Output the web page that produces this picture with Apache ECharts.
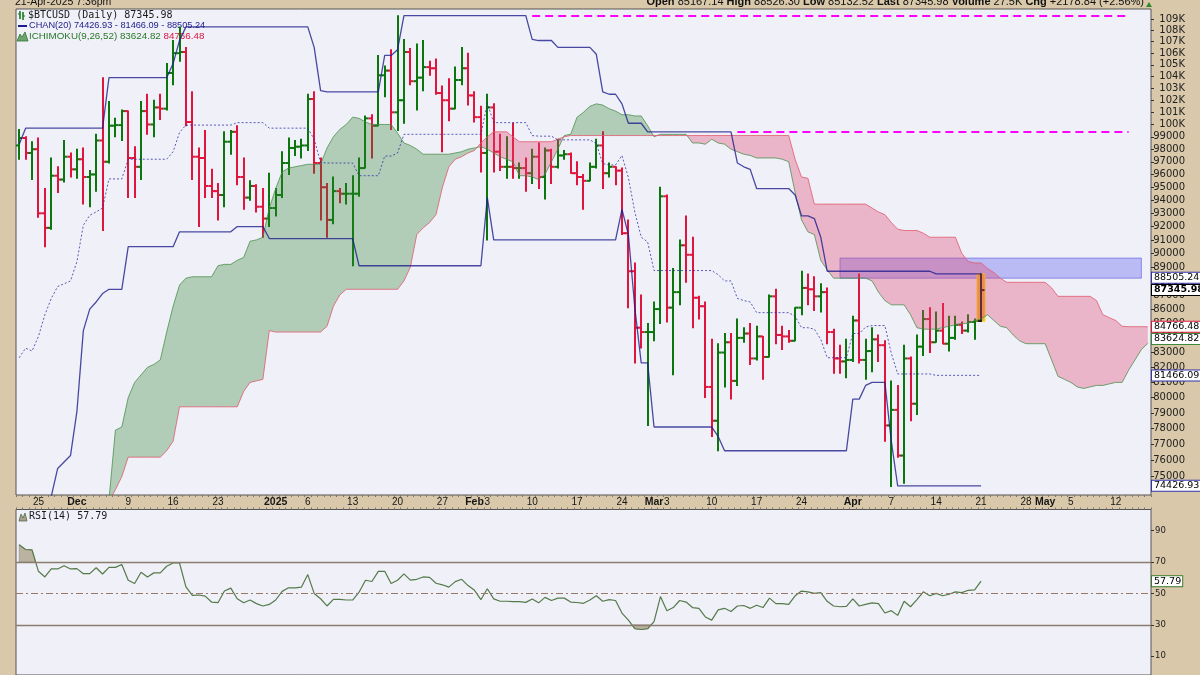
<!DOCTYPE html>
<html>
<head>
<meta charset="utf-8">
<script src="https://cdn.jsdelivr.net/npm/echarts@6.0.0/dist/echarts.min.js"></script>
<style>
html,body{margin:0;padding:0;background:#d9c8a9;overflow:hidden;}
#chart{width:1200px;height:675px;}
</style>
</head>
<body>
<div id="chart"></div>
<script>
// ---------- categories ----------
const startDay = [2024, 10, 22];   // 22-Nov-2024 (month 0-based)
const dayCount = 177;              // through 17-May-2025 (cloud projection)
const xLabelIndex = [3,9,17,24,31,40,45,52,59,66,71,73,80,87,94,99,101,108,115,122,130,136,143,150,157,160,164,171];
const xLabelText  = ['25','Dec','9','16','23','2025','6','13','20','27','Feb','3','10','17','24','Mar','3','10','17','24','Apr','7','14','21','28','May','5','12'];
const xLabelBold  = ['Dec','2025','Feb','Mar','Apr','May'];

// ---------- daily OHLC, thousand USD ----------
const openP = [
98.3,98.9,97.7,98.0,93.0,91.9,95.9,95.6,97.4,96.4,
97.2,95.8,96.0,98.7,97.0,99.9,99.95,101.1,97.3,96.6,
101.1,100.0,101.4,101.3,104.3,106.0,106.1,100.2,97.4,97.3,
95.1,94.7,94.4,98.6,99.4,95.8,94.2,95.1,93.5,92.6,
93.4,94.4,96.9,98.1,98.2,98.3,102.1,96.9,95.0,92.5,
94.7,94.5,94.5,94.5,96.5,100.5,99.9,104.1,104.5,101.0,
102.0,106.1,103.6,103.9,104.8,104.7,102.6,102.0,101.3,103.7,
104.7,102.4,100.6,97.7,101.4,97.8,96.6,96.6,96.5,96.5,
96.1,97.4,95.8,97.9,96.6,97.5,97.6,96.1,95.8,95.5,
96.6,98.3,96.1,96.6,96.3,91.5,88.7,84.7,84.4,84.4,
86.0,94.3,86.1,87.2,90.6,89.9,86.8,86.2,80.7,78.5,
83.0,83.7,81.1,84.0,84.3,82.6,84.1,82.7,86.9,84.2,
84.1,83.8,86.1,87.5,87.4,86.9,87.2,84.4,82.6,82.4,
82.5,85.2,82.5,83.1,83.9,83.5,78.2,79.2,76.3,82.6,
79.6,83.4,85.3,83.7,84.5,83.6,84.0,84.9,84.5,85.1,
85.167];
const highP = [
99.6,99.0,98.6,98.9,94.9,97.3,96.6,98.7,97.7,98.0,
98.1,96.3,99.2,103.9,101.9,100.5,101.2,101.1,98.2,101.9,
102.5,102.0,102.5,105.1,107.1,108.3,106.5,102.7,98.1,99.5,
96.4,95.3,99.4,99.5,99.9,97.3,95.5,95.2,94.9,96.1,
94.9,97.8,98.9,98.7,98.8,102.5,102.7,97.3,95.3,95.8,
94.9,95.3,95.9,97.3,100.7,100.8,105.8,104.9,106.3,109.3,
107.2,106.4,106.8,107.1,105.3,105.5,103.2,103.8,104.8,106.5,
106.0,102.7,101.5,102.5,101.7,99.2,99.0,100.1,96.9,97.3,
98.0,98.5,98.1,98.0,98.8,97.9,97.7,97.0,96.0,96.9,
98.8,99.4,96.9,96.6,96.5,92.5,89.3,87.0,85.0,86.5,
95.0,94.4,88.9,91.0,92.8,91.2,86.9,86.5,83.9,83.6,
84.3,84.3,85.3,84.7,85.0,84.8,84.1,87.0,87.4,84.8,
84.5,86.1,88.7,88.5,88.3,87.8,87.5,84.6,83.5,83.9,
85.5,88.5,83.9,84.7,84.2,83.8,81.1,80.8,83.5,82.7,
84.2,85.9,86.1,85.8,86.4,85.5,85.5,85.1,85.6,85.3,
88.526];
const lowP = [
97.2,97.2,95.6,92.7,90.5,91.8,94.6,95.4,95.8,95.7,
93.7,93.5,94.7,91.7,96.9,99.0,98.7,94.2,94.2,95.6,
99.2,99.0,100.4,101.2,103.3,105.3,99.9,95.6,92.0,94.2,
94.2,92.5,93.5,97.6,95.2,93.3,94.0,93.1,91.2,92.0,
92.8,94.2,96.0,97.5,97.3,97.9,96.1,92.5,91.2,92.2,
93.8,93.7,89.1,94.3,96.5,97.3,99.9,102.3,99.6,99.5,
100.1,103.3,101.2,102.8,104.1,102.5,97.8,100.3,101.3,103.3,
101.6,100.2,96.2,91.0,96.2,96.3,95.7,95.7,95.7,94.7,
95.3,94.9,94.1,95.3,96.5,97.2,96.1,95.2,93.3,95.5,
96.5,94.9,95.8,95.2,91.4,86.1,82.3,83.3,78.2,83.8,
85.0,85.1,81.5,86.3,87.9,84.7,85.3,80.0,77.5,76.6,
80.7,79.9,80.8,83.7,82.2,82.5,81.2,82.7,83.6,83.2,
83.7,83.8,85.6,86.3,85.9,85.8,83.6,81.6,81.6,81.3,
82.4,82.3,81.2,81.7,82.4,77.2,74.4,76.2,74.6,78.5,
78.9,82.8,83.0,83.7,83.6,83.1,83.9,84.3,84.4,83.9,
85.133];
const closeP = [
98.9,97.7,98.0,93.0,91.9,95.9,95.6,97.4,96.4,97.2,
95.8,96.0,98.7,97.0,99.9,99.95,101.1,97.3,96.6,101.1,
100.0,101.4,101.3,104.3,106.0,106.1,100.2,97.4,97.3,95.1,
94.7,94.4,98.6,99.4,95.8,94.2,95.1,93.5,92.6,93.4,
94.4,96.9,98.1,98.2,98.3,102.1,96.9,95.0,92.5,94.7,
94.5,94.5,94.5,96.5,100.5,99.9,104.1,104.5,101.0,102.0,
106.1,103.6,103.9,104.8,104.7,102.6,102.0,101.3,103.7,104.7,
102.4,100.6,97.7,101.4,97.8,96.6,96.6,96.5,96.5,96.1,
97.4,95.8,97.9,96.6,97.5,97.6,96.1,95.8,95.5,96.6,
98.3,96.1,96.6,96.3,91.5,88.7,84.7,84.4,84.4,86.0,
94.3,86.1,87.2,90.6,89.9,86.8,86.2,80.7,78.5,83.0,
83.7,81.1,84.0,84.3,82.6,84.1,82.7,86.9,84.2,84.1,
83.8,86.1,87.5,87.4,86.9,87.2,84.4,82.6,82.4,82.5,
85.2,82.5,83.1,83.9,83.5,78.2,79.2,76.3,82.6,79.6,
83.4,85.3,83.7,84.5,83.6,84.0,84.9,84.5,85.1,85.167,
87.346];

// ---------- Price channel (20) ----------
const chanUpper = [
98.4,99.7,99.7,99.7,99.7,99.7,99.7,99.7,99.7,99.7,
99.7,99.7,99.7,99.7,103.9,103.9,103.9,103.9,103.9,103.9,
103.9,103.9,103.9,103.9,105.1,107.1,108.3,108.3,108.3,108.3,
108.3,108.3,108.3,108.3,108.3,108.3,108.3,108.3,108.3,108.3,
108.3,108.3,108.3,108.3,108.3,108.3,106.5,102.8,102.7,102.7,
102.7,102.7,102.7,102.7,102.7,102.7,102.7,105.8,105.8,106.3,
109.3,109.3,109.3,109.3,109.3,109.3,109.3,109.3,109.3,109.3,
109.3,109.3,109.3,109.3,109.3,109.3,109.3,109.3,109.3,109.3,
107.2,107.1,107.1,107.1,106.5,106.5,106.5,106.5,106.5,106.5,
105.9,102.7,102.5,102.5,101.7,100.1,100.1,100.1,99.4,99.4,
99.4,99.4,99.4,99.4,99.4,99.4,99.4,99.4,99.4,99.4,
99.4,99.4,96.9,96.6,96.4,94.9,94.9,94.9,94.9,94.9,
94.9,94.4,92.8,92.8,92.6,91.2,88.7,88.7,88.7,88.7,
88.7,88.7,88.7,88.7,88.7,88.7,88.7,88.7,88.7,88.7,
88.7,88.7,88.7,88.505,88.505,88.505,88.505,88.505,88.505,88.505,
88.505];
const chanLower = [
66.9,66.9,66.5,68.5,71.5,73.8,75.5,75.9,76.3,79.1,
84.5,86.0,86.5,87.1,87.4,87.4,87.4,90.5,90.5,90.5,
90.5,90.5,90.5,90.5,90.5,91.6,91.6,91.6,91.6,91.6,
91.6,91.6,91.6,91.6,92.0,92.0,92.0,92.0,92.0,91.1,
91.1,91.1,91.1,91.1,91.1,91.1,91.1,91.1,91.1,91.1,
91.1,91.1,91.1,89.1,89.1,89.1,89.1,89.1,89.1,89.1,
89.1,89.1,89.1,89.1,89.1,89.1,89.1,89.1,89.1,89.1,
89.1,89.1,89.1,94.2,91.0,91.0,91.0,91.0,91.0,91.0,
91.0,91.0,91.0,91.0,91.0,91.0,91.0,91.0,91.0,91.0,
91.0,91.0,91.0,91.0,93.3,91.4,86.1,82.3,82.3,78.1,
78.1,78.1,78.1,78.1,78.1,78.1,78.1,78.1,78.1,77.5,
76.6,76.6,76.6,76.6,76.6,76.6,76.6,76.6,76.6,76.6,
76.6,76.6,76.6,76.6,76.6,76.6,76.6,76.6,76.6,76.6,
79.9,79.9,80.8,81.0,81.0,81.0,77.2,74.427,74.427,74.427,
74.427,74.427,74.427,74.427,74.427,74.427,74.427,74.427,74.427,74.427,
74.427];
const chanMid = [
82.65,83.3,83.1,84.1,85.6,86.75,87.6,87.8,88.0,89.4,
92.1,92.85,93.1,93.4,95.65,95.65,95.65,97.2,97.2,97.2,
97.2,97.2,97.2,97.2,97.8,99.35,99.95,99.95,99.95,99.95,
99.95,99.95,99.95,99.95,100.15,100.15,100.15,100.15,100.15,99.7,
99.7,99.7,99.7,99.7,99.7,99.7,98.8,96.95,96.9,96.9,
96.9,96.9,96.9,95.9,95.9,95.9,95.9,97.45,97.45,97.7,
99.2,99.2,99.2,99.2,99.2,99.2,99.2,99.2,99.2,99.2,
99.2,99.2,99.2,101.75,100.15,100.15,100.15,100.15,100.15,100.15,
99.1,99.05,99.05,99.05,98.75,98.75,98.75,98.75,98.75,98.75,
98.45,96.85,96.75,96.75,97.5,95.75,93.1,91.2,90.85,88.75,
88.75,88.75,88.75,88.75,88.75,88.75,88.75,88.75,88.75,88.45,
88.0,88.0,86.75,86.6,86.5,85.75,85.75,85.75,85.75,85.75,
85.75,85.5,84.7,84.7,84.6,83.9,82.65,82.65,82.65,82.65,
84.3,84.3,84.75,84.85,84.85,84.85,82.95,81.56,81.56,81.56,
81.56,81.56,81.56,81.466,81.466,81.466,81.466,81.466,81.466,81.466,
81.466];

// ---------- Ichimoku cloud (spans start at index 14) ----------
const cloudStart = 14;
const spanA = [
73.6,77.9,78.1,80.0,81.0,81.5,82.0,82.2,82.5,84.4,
86.2,87.7,88.2,88.3,88.3,88.3,88.3,89.1,89.2,89.2,
89.5,89.7,90.9,91.0,91.2,93.4,94.9,96.2,96.5,96.6,
96.7,96.8,96.8,96.8,98.1,99.0,99.6,100.0,100.6,100.5,
100.2,100.0,100.0,100.0,100.0,99.3,98.5,98.3,98.0,97.6,
97.6,97.6,97.6,97.6,97.7,97.8,98.0,98.1,98.2,98.0,
97.7,97.4,97.2,97.0,95.9,95.9,95.8,95.6,96.0,97.0,
98.0,99.1,99.2,100.6,101.0,101.5,101.7,101.6,101.3,101.1,
100.8,100.8,100.7,100.7,99.9,99.0,99.2,99.2,99.2,99.2,
99.2,98.5,98.5,98.4,98.8,98.5,98.4,98.0,97.8,97.6,
97.5,97.3,97.3,97.3,97.3,97.2,97.0,94.6,92.5,91.6,
91.4,89.5,88.8,88.2,88.2,88.2,88.2,88.2,88.2,88.0,
87.2,86.6,86.3,86.3,86.3,85.6,84.7,84.6,84.6,84.6,
84.7,84.8,84.9,85.0,85.0,85.2,85.3,85.6,85.2,84.8,
84.7,84.2,83.8,83.6,83.6,83.6,83.6,82.5,81.4,81.2,
81.0,80.7,80.6,80.7,80.8,80.8,80.9,81.0,81.0,81.8,
82.5,83.2,83.625];
const spanB = [
73.5,74.2,75.0,76.2,76.2,76.2,76.2,76.2,76.2,76.6,
77.2,79.4,79.4,79.4,79.4,79.4,79.4,79.4,79.4,79.4,
79.4,80.4,81.0,81.1,81.2,84.5,84.4,84.4,84.4,84.4,
84.4,84.4,84.4,84.4,84.8,86.2,87.0,87.4,87.4,87.4,
87.4,87.4,87.4,87.4,87.4,87.4,88.0,89.0,91.4,91.9,
92.3,92.9,95.0,96.6,97.2,97.4,97.7,97.9,98.5,99.0,
99.4,99.4,99.4,99.0,98.6,98.6,98.6,98.6,98.6,98.6,
98.8,99.0,99.1,99.1,99.1,99.1,99.1,99.1,99.1,99.1,
99.1,99.1,99.1,99.1,99.1,99.1,99.1,99.1,99.1,99.1,
99.1,99.1,99.1,99.1,99.1,99.1,99.1,99.1,99.1,99.1,
99.1,99.1,99.1,99.1,99.1,99.1,99.1,97.2,95.8,95.7,
93.7,93.7,93.7,93.7,93.7,93.7,93.7,93.7,93.7,93.4,
93.1,92.9,92.3,91.8,91.7,91.7,91.7,91.5,91.2,91.2,
91.2,91.2,91.2,90.0,89.4,89.3,89.3,88.9,88.6,88.2,
87.9,87.9,87.9,87.9,87.9,87.9,87.9,87.5,86.9,86.9,
86.9,86.9,86.9,86.9,86.6,85.6,85.4,85.2,84.8,84.77,
84.77,84.77,84.767];

// ---------- RSI(14) ----------
const rsiVals = [
81.0,78.0,77.8,64.1,60.5,65.6,65.6,67.7,65.6,65.8,
62.6,62.6,66.4,62.4,66.6,66.6,68.4,58.4,56.3,63.5,
60.5,63.1,63.1,67.3,69.4,69.4,54.2,48.7,49.0,48.3,
44.5,44.1,51.5,53.4,46.6,44.1,45.8,43.5,42.0,43.0,
45.8,51.3,53.6,53.6,54.0,62.0,50.0,46.6,42.0,46.2,
46.2,45.8,45.8,50.8,58.4,57.6,64.1,64.1,56.3,58.4,
62.5,58.5,59.0,60.5,60.2,56.5,55.5,54.0,57.5,59.0,
55.0,52.0,46.0,53.0,46.5,45.0,45.0,44.8,44.8,44.3,
46.5,44.0,47.5,45.5,47.0,47.0,44.5,44.2,43.7,45.8,
48.5,45.0,46.0,45.5,37.5,33.0,27.5,27.0,27.5,32.0,
48.0,39.0,41.0,45.5,44.5,41.0,40.5,35.0,33.0,39.5,
40.5,38.5,42.0,42.3,40.5,42.5,41.0,47.0,43.5,43.5,
43.0,48.5,51.5,51.0,50.0,50.5,45.0,42.0,41.5,41.8,
46.5,42.0,43.0,44.0,43.5,37.5,39.0,36.0,45.0,41.5,
46.0,51.0,48.5,50.0,48.5,49.5,51.0,50.5,52.0,52.3,
57.79];

// ---------- axis ticks & annotations ----------
const priceTicks = [75,76,77,78,79,80,81,82,83,84,85,86,87,88,89,90,91,92,93,94,95,96,97,98,99,100,101,102,103,104,105,106,107,108,109];
const rsiTicks = [10,30,50,70,90];
const yTopPrice = 109.894, yBottomPrice = 73.88;
const resistHigh = 109.3, resistLow = 99.4;
const zoneTop = 89.66, zoneBottom = 88.2;
const lastInfo = {last: 87.34598, chU: 88.50524, chM: 81.46609, chL: 74.42693, spanA: 83.62482, spanB: 84.76648, rsi: 57.79};

// ---------- build ----------
const LN = v => Math.log(v);
const dates = [];
for (let i = 0; i < dayCount; i++) {
  const d = new Date(Date.UTC(startDay[0], startDay[1], startDay[2] + i));
  dates.push(d.toISOString().slice(0, 10));
}
const labelMap = {};
xLabelIndex.forEach((ix, k) => labelMap[ix] = xLabelText[k]);

function padSeries(arr, start) {
  const out = new Array(dayCount).fill(null);
  arr.forEach((v, k) => out[start + k] = LN(v));
  return out;
}
function px(api, xf, v) {
  const i0 = Math.floor(xf), t = xf - i0;
  const p0 = api.coord([i0, v]);
  if (t < 1e-9) return p0;
  const p1 = api.coord([i0 + 1, v]);
  return [p0[0] + (p1[0] - p0[0]) * t, p0[1]];
}

const ohlcData = closeP.map((c, i) => [i, LN(openP[i]), LN(highP[i]), LN(lowP[i]), LN(c)]);

function renderBar(params, api) {
  const i = api.value(0);
  const x = Math.round(api.coord([i, api.value(2)])[0]);
  const yO = api.coord([i, api.value(1)])[1];
  const yH = api.coord([i, api.value(2)])[1];
  const yL = api.coord([i, api.value(3)])[1];
  const yC = api.coord([i, api.value(4)])[1];
  const last = i === closeP.length - 1;
  const up = i === 0 ? closeP[0] >= openP[0] : closeP[i] >= closeP[i - 1];
  const col = last ? '#202020' : (up ? '#0b760b' : '#e0143c');
  const ch = [];
  if (last) ch.push({type: 'rect', shape: {x: x - 4, y: yH, width: 8, height: yL - yH},
    style: {fill: '#f2b33c', stroke: '#f3e22a', lineWidth: 1}});
  ch.push({type: 'line', shape: {x1: x, y1: yH - 0.5, x2: x, y2: yL + 0.5}, style: {stroke: col, lineWidth: 2}});
  ch.push({type: 'line', shape: {x1: x - 3.5, y1: yO, x2: x, y2: yO}, style: {stroke: col, lineWidth: 2}});
  ch.push({type: 'line', shape: {x1: x, y1: yC, x2: x + 3.5, y2: yC}, style: {stroke: col, lineWidth: 2}});
  return {type: 'group', children: ch};
}

function renderCloud(params, api) {
  const pts = [];
  for (let k = 0; k < spanA.length; k++) {
    const i = cloudStart + k;
    const a = LN(spanA[k]), b = LN(spanB[k]);
    if (k > 0) {
      const pa = LN(spanA[k - 1]), pb = LN(spanB[k - 1]);
      const d0 = pa - pb, d1 = a - b;
      if (d0 * d1 < 0) {
        const t = d0 / (d0 - d1);
        const y = pa + (a - pa) * t;
        pts.push({x: i - 1 + t, a: y, b: y});
      }
    }
    pts.push({x: i, a: a, b: b});
  }
  const runs = [];
  let run = [], sign = 0;
  for (const p of pts) {
    const s = Math.sign(p.a - p.b);
    run.push(p);
    if (s !== 0) { if (sign === 0) sign = s; }
    else if (run.length > 1) { if (sign !== 0) runs.push({run, sign}); run = [p]; sign = 0; }
  }
  if (run.length > 1 && sign !== 0) runs.push({run, sign});
  const children = runs.map(r => {
    const top = r.run.map(p => px(api, p.x, p.a));
    const bot = r.run.slice().reverse().map(p => px(api, p.x, p.b));
    return {type: 'polygon', shape: {points: top.concat(bot)},
      style: {fill: r.sign > 0 ? 'rgba(48,132,48,0.32)' : 'rgba(226,66,108,0.34)'}};
  });
  return {type: 'group', children};
}

function thresholdRuns(vals, thr, dir) {
  const runs = []; let run = null;
  for (let i = 0; i < vals.length; i++) {
    const v = vals[i], inside = dir * (v - thr) > 0;
    if (i > 0) {
      const pv = vals[i - 1], pin = dir * (pv - thr) > 0;
      if (pin !== inside) {
        const t = (thr - pv) / (v - pv);
        if (pin) { run.push([i - 1 + t, thr]); runs.push(run); run = null; }
        else { run = [[i - 1 + t, thr]]; }
      }
    }
    if (inside) { if (!run) run = [[i, thr]]; run.push([i, v]); }
  }
  if (run) { run.push([vals.length - 1, thr]); runs.push(run); }
  return runs;
}
function renderRsiFill(params, api) {
  const runs = thresholdRuns(rsiVals, 70, 1).concat(thresholdRuns(rsiVals, 30, -1));
  return {type: 'group', children: runs.map(r => ({type: 'polygon',
    shape: {points: r.map(p => px(api, p[0], p[1]))},
    style: {fill: '#bbb29f', stroke: '#8f8878', lineWidth: 0.6}}))};
}

function tag(v, txt, color, bold) {
  return {yAxis: v, lineStyle: {width: 0, color: 'rgba(0,0,0,0)'},
    label: {show: true, position: 'end', distance: 1, formatter: txt, color: '#000',
      fontFamily: 'DejaVu Sans', fontSize: 9.5, fontWeight: bold ? 'bold' : 'normal',
      backgroundColor: '#ffffff', borderColor: color, borderWidth: 1, padding: [0, 1, 0, 2]}};
}

const chart = echarts.init(document.getElementById('chart'), null, {renderer: 'canvas', width: 1200, height: 675});

const option = {
  animation: false,
  backgroundColor: '#d9c8a9',
  textStyle: {fontFamily: 'DejaVu Sans'},
  grid: [
    {left: 16, top: 9, width: 1135, height: 486, show: true, backgroundColor: '#eff0f8', borderColor: '#555', borderWidth: 1},
    {left: 16, top: 509.5, width: 1135, height: 166.7, show: true, backgroundColor: '#eff0f8', borderColor: '#555', borderWidth: 1}
  ],
  xAxis: [
    {type: 'category', gridIndex: 0, data: dates, boundaryGap: true,
      axisLine: {show: false, onZero: false},
      axisTick: {show: true, interval: 0, length: 2, lineStyle: {color: '#777'}},
      axisLabel: {
        interval: (idx) => labelMap[idx] !== undefined,
        formatter: (val, idx) => {
          const t = labelMap[idx];
          if (t === undefined) return '';
          return xLabelBold.indexOf(t) >= 0 ? '{b|' + t + '}' : t;
        },
        fontFamily: 'Liberation Sans', fontSize: 10, color: '#151515', margin: 2,
        rich: {b: {fontFamily: 'Liberation Sans', fontSize: 10.5, fontWeight: 'bold', color: '#151515'}}
      },
      splitLine: {show: false}},
    {type: 'category', gridIndex: 1, data: dates, boundaryGap: true, position: 'top',
      axisLine: {show: false, onZero: false},
      axisTick: {show: true, interval: 0, length: 2, inside: false, lineStyle: {color: '#777'}},
      axisLabel: {show: false}, splitLine: {show: false}}
  ],
  yAxis: [
    {type: 'value', gridIndex: 0, position: 'right', min: LN(yBottomPrice), max: LN(yTopPrice),
      splitLine: {show: false}, axisLine: {show: false},
      axisTick: {show: true, customValues: priceTicks.map(LN), length: 3, lineStyle: {color: '#333'}},
      axisLabel: {customValues: priceTicks.map(LN),
        formatter: (v) => { const k = Math.round(Math.exp(v)); return k >= 100 ? k + 'K' : String(k * 1000); },
        align: 'right', margin: 34, fontFamily: 'DejaVu Sans', fontSize: 10, color: '#222'}},
    {type: 'value', gridIndex: 1, position: 'right', min: -2, max: 103.5,
      splitLine: {show: false}, axisLine: {show: false},
      axisTick: {show: true, customValues: rsiTicks, length: 3, lineStyle: {color: '#333'}},
      axisLabel: {customValues: rsiTicks, align: 'left', margin: 4,
        fontFamily: 'DejaVu Sans', fontSize: 8.5, color: '#222'}}
  ],
  series: [
    {type: 'custom', name: 'BTCUSD', xAxisIndex: 0, yAxisIndex: 0, z: 2, clip: true,
      data: ohlcData, encode: {x: 0, y: [1, 2, 3, 4]}, renderItem: renderBar},
    {type: 'custom', name: 'cloud', xAxisIndex: 0, yAxisIndex: 0, z: 3, clip: true, silent: true,
      data: [[cloudStart, LN(90)]], encode: {x: 0, y: 1}, renderItem: renderCloud},
    {type: 'line', name: 'spanA', xAxisIndex: 0, yAxisIndex: 0, z: 4, data: padSeries(spanA, cloudStart),
      symbol: 'none', lineStyle: {color: 'rgba(70,140,70,0.75)', width: 1}, silent: true},
    {type: 'line', name: 'spanB', xAxisIndex: 0, yAxisIndex: 0, z: 4, data: padSeries(spanB, cloudStart),
      symbol: 'none', lineStyle: {color: 'rgba(225,90,110,0.8)', width: 1}, silent: true},
    {type: 'line', name: 'chanUpper', xAxisIndex: 0, yAxisIndex: 0, z: 5, data: chanUpper.map(LN),
      symbol: 'none', lineStyle: {color: 'rgba(30,30,140,0.8)', width: 1.3}, silent: true,
      markLine: {silent: true, symbol: ['none', 'none'], animation: false,
        data: [
          [{coord: [80, LN(resistHigh)]}, {coord: [173, LN(resistHigh)]}],
          [{coord: [112, LN(resistLow)]}, {coord: [173, LN(resistLow)]}]
        ],
        lineStyle: {color: '#ff00ff', width: 2, type: [8, 5]}, label: {show: false}}},
    {type: 'line', name: 'chanLower', xAxisIndex: 0, yAxisIndex: 0, z: 5, data: chanLower.map(LN),
      symbol: 'none', lineStyle: {color: 'rgba(30,30,140,0.8)', width: 1.3}, silent: true,
      markArea: {silent: true,
        itemStyle: {color: 'rgba(92,92,238,0.36)', borderColor: 'rgba(80,80,225,0.55)', borderWidth: 1},
        data: [[{coord: [128, LN(zoneTop)]}, {coord: [175, LN(zoneBottom)]}]]}},
    {type: 'line', name: 'chanMid', xAxisIndex: 0, yAxisIndex: 0, z: 5, data: chanMid.map(LN),
      symbol: 'none', lineStyle: {color: 'rgba(40,40,160,0.75)', width: 1, type: [2, 2]}, silent: true,
      markLine: {silent: true, symbol: ['none', 'none'], animation: false,
        data: [
          tag(LN(lastInfo.chL), '74426.93', '#3333aa'),
          tag(LN(lastInfo.chM), '81466.09', '#3333aa'),
          tag(LN(lastInfo.spanA), '83624.82', '#3a8a3a'),
          tag(LN(lastInfo.spanB), '84766.48', '#e0143c'),
          tag(LN(lastInfo.chU), '88505.24', '#3333aa'),
          tag(LN(lastInfo.last), '87345.98', '#000000', true)
        ]}},
    {type: 'custom', name: 'rsiFill', xAxisIndex: 1, yAxisIndex: 1, z: 2, clip: true, silent: true,
      data: [[0, 50]], encode: {x: 0, y: 1}, renderItem: renderRsiFill},
    {type: 'line', name: 'RSI', xAxisIndex: 1, yAxisIndex: 1, z: 4, data: rsiVals,
      symbol: 'none', lineStyle: {color: '#557a4a', width: 1.2}, silent: true,
      markLine: {silent: true, symbol: ['none', 'none'], animation: false,
        data: [
          {yAxis: 70, lineStyle: {color: '#8a7c6e', width: 1.3, type: 'solid'}, label: {show: false}},
          {yAxis: 30, lineStyle: {color: '#8a7c6e', width: 1.3, type: 'solid'}, label: {show: false}},
          {yAxis: 50, lineStyle: {color: '#9a7866', width: 1, type: [7, 3, 2, 3]}, label: {show: false}},
          tag(lastInfo.rsi, '57.79', '#3a7a2a')
        ]}}
  ],
  graphic: [
    // header
    {type: 'text', left: 15, top: -3, style: {text: '21-Apr-2025 7:36pm', font: '10.5px "Liberation Sans"', fill: '#111'}},
    {type: 'text', right: 56, top: -3.5, style: {
      text: '{b|Open} 85167.14 {b|High} 88526.30 {b|Low} 85132.52 {b|Last} 87345.98 {b|Volume} 27.5K {b|Chg} +2178.84 (+2.56%)',
      font: '11px "Liberation Sans"', fill: '#111',
      rich: {b: {font: 'bold 11px "Liberation Sans"', fill: '#111'}}}},
    {type: 'polygon', shape: {points: [[1146, 7], [1152, 7], [1149, 2]]}, style: {fill: '#2e8a2e'}},
    // legend line 1
    {type: 'line', shape: {x1: 20, y1: 11, x2: 20, y2: 19}, style: {stroke: '#0b760b', lineWidth: 1.5}},
    {type: 'line', shape: {x1: 23, y1: 12, x2: 23, y2: 20}, style: {stroke: '#0b760b', lineWidth: 1.5}},
    {type: 'line', shape: {x1: 18, y1: 14, x2: 20, y2: 14}, style: {stroke: '#0b760b', lineWidth: 1}},
    {type: 'line', shape: {x1: 23, y1: 16, x2: 25, y2: 16}, style: {stroke: '#0b760b', lineWidth: 1}},
    {type: 'text', left: 28, top: 10, style: {text: '$BTCUSD (Daily) 87345.98', font: '10px "DejaVu Sans Mono"', fill: '#1a1a1a'}},
    // legend line 2
    {type: 'line', shape: {x1: 18, y1: 26, x2: 27, y2: 26}, style: {stroke: '#1c1c8c', lineWidth: 2}},
    {type: 'text', left: 29, top: 20.5, style: {text: 'CHAN(20) 74426.93 - 81466.09 - 88505.24', font: '9.2px "Liberation Sans"', fill: '#1c1c8c'}},
    // legend line 3
    {type: 'polygon', shape: {points: [[17, 41], [20, 34], [22, 37], [25, 32], [28, 41]]}, style: {fill: '#6ea36e', stroke: '#2f7a2f', lineWidth: 0.8}},
    {type: 'text', left: 29, top: 31.5, style: {text: '{g|ICHIMOKU(9,26,52) 83624.82} {r|84766.48}', font: '9.8px "Liberation Sans"',
      rich: {g: {font: '9.8px "Liberation Sans"', fill: '#287828'}, r: {font: '9.8px "Liberation Sans"', fill: '#e0143c'}}}},
    // RSI legend
    {type: 'polygon', shape: {points: [[19, 521], [21, 514], [23, 518], [25, 513], [27, 521]]}, style: {fill: '#a8a08c', stroke: '#556b44', lineWidth: 0.8}},
    {type: 'text', left: 29, top: 511.5, style: {text: 'RSI(14) 57.79', font: '10px "DejaVu Sans Mono"', fill: '#1a1a1a'}}
  ]
};
chart.setOption(option);
</script>
</body>
</html>
